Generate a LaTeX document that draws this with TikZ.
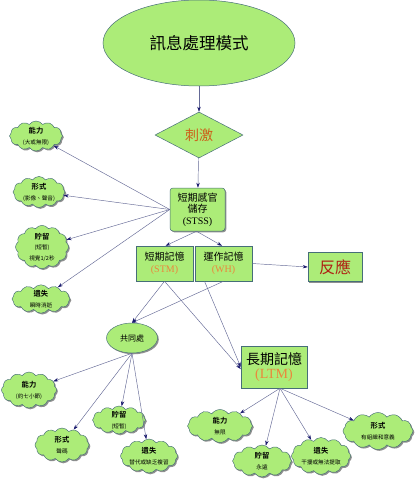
\documentclass[tikz,border=0pt]{standalone}
\usepackage{fontspec}
\setmainfont{Noto Sans CJK TC}[BoldFont={Noto Sans CJK TC Bold}]
\newfontfamily\lat{Liberation Serif}
\usetikzlibrary{shapes.geometric,shapes.symbols,arrows.meta,shadows}
\definecolor{gfill}{RGB}{172,236,120}
\definecolor{boxb}{RGB}{70,110,120}
\definecolor{linec}{RGB}{100,105,150}
\definecolor{tipc}{RGB}{25,25,110}
\definecolor{orangec}{RGB}{235,135,60}
\definecolor{stimc}{RGB}{205,95,25}
\definecolor{respc}{RGB}{175,35,20}
\tikzset{
  conn/.style={draw=linec, line width=0.45pt, -{Stealth[length=5pt,width=3.4pt,color=tipc]}},
  shad/.style={drop shadow={shadow xshift=1.3pt, shadow yshift=-1.3pt, fill=black!55, opacity=0.8}},
  box/.style={draw=boxb, fill=gfill, line width=0.5pt, inner sep=0pt, align=center, shad},
  cl/.style={cloud, cloud puffs=12, cloud puff arc=110, cloud ignores aspect, draw=boxb, fill=gfill, line width=0.45pt, inner sep=0pt, align=center, shad},
}
\newcommand{\cltitle}[1]{\fontsize{7.3}{8.5}\selectfont\bfseries #1}
\newcommand{\clsub}[1]{\fontsize{5.6}{6.5}\selectfont #1}
\begin{document}
\begin{tikzpicture}[x=1pt,y=-1pt]
\useasboundingbox (0,0) rectangle (416,479);
\fill[white] (0,0) rectangle (416,479);
% main nodes
\node[ellipse, draw=boxb, fill=gfill, line width=0.5pt, minimum width=192, minimum height=86, inner sep=0pt, font=\fontsize{16.5}{18}\selectfont] (title) at (199,43) {訊息處理模式};
\node[diamond, draw=boxb, fill=gfill, line width=0.5pt, aspect=1.9, minimum width=88, minimum height=46, inner sep=0pt, text=stimc, font=\fontsize{14}{16}\selectfont] (stim) at (199,135) {刺激};
\node[box, rounded corners=3pt, minimum width=55, minimum height=43, font=\fontsize{10}{11.5}\selectfont] (stss) at (197.5,209.5) {短期感官\\儲存\\\lat(STSS)};
\node[box, minimum width=57, minimum height=35, font=\fontsize{10}{12}\selectfont] (stm) at (164.5,263.5) {短期記憶\\\lat\color{orangec}(STM)};
\node[box, minimum width=57, minimum height=35, font=\fontsize{10}{12}\selectfont] (wh) at (223.5,263.5) {運作記憶\\\lat\color{orangec}(WH)};
\node[box, minimum width=54, minimum height=29, text=respc, font=\fontsize{16}{18}\selectfont] (resp) at (335,267) {反應};
\node[box, minimum width=66, minimum height=42, font=\fontsize{14}{16}\selectfont] (ltm) at (274,367) {長期記憶\\[-2pt]\lat\color{orangec}(LTM)};
\node[ellipse, draw=boxb, fill=gfill, line width=0.45pt, minimum width=51, minimum height=30, inner sep=0pt, font=\fontsize{8}{9}\selectfont, shad] (share) at (132,338) {共同處};
% sensory clouds
\node[cl, minimum width=53, minimum height=28] (s1) at (36,136) {\cltitle{能力}\\[-1pt]\clsub{(大或無限)}};
\node[cl, minimum width=52, minimum height=27] (s2) at (39,192) {\cltitle{形式}\\[-1pt]\clsub{(影像、聲音)}};
\node[cl, minimum width=53, minimum height=32] (s3) at (42,247) {\cltitle{貯留}\\[-1.5pt]\clsub{(短暫)}\\[-1.5pt]\clsub{視覺1/2秒}};
\node[cl, minimum width=58, minimum height=28] (s4) at (41,299) {\cltitle{遺失}\\[-1pt]\clsub{瞬時消逝}};
% STM clouds
\node[cl, minimum width=55, minimum height=36] (m1) at (29,390) {\cltitle{能力}\\[-1pt]\clsub{(約七小節)}};
\node[cl, minimum width=54, minimum height=34] (m2) at (62,445) {\cltitle{形式}\\[-1pt]\clsub{聲碼}};
\node[cl, minimum width=53, minimum height=28] (m3) at (119,420) {\cltitle{貯留}\\[-1pt]\clsub{(短暫)}};
\node[cl, minimum width=55, minimum height=34] (m4) at (149,456) {\cltitle{遺失}\\[-1pt]\clsub{替代或缺乏複習}};
% LTM clouds
\node[cl, minimum width=65, minimum height=33] (l1) at (220,426) {\cltitle{能力}\\[-1pt]\clsub{無限}};
\node[cl, minimum width=59, minimum height=32] (l2) at (262,461) {\cltitle{貯留}\\[-1pt]\clsub{永遠}};
\node[cl, minimum width=59, minimum height=37] (l3) at (321,456) {\cltitle{遺失}\\[-1pt]\clsub{干擾或無法提取}};
\node[cl, minimum width=70, minimum height=37] (l4) at (378,431) {\cltitle{形式}\\[-1pt]\clsub{有組織和意義}};
% connectors
\draw[conn] (title) -- (stim);
\draw[conn] (stim) -- (stss);
\draw[conn] (stss.west) -- (s1);
\draw[conn] (stss.west) -- (s2);
\draw[conn] (stss.west) -- (s3);
\draw[conn] (stss.west) -- (s4);
\draw[conn] ([xshift=-1pt]stss.south) -- ([xshift=1pt]stm.north);
\draw[conn] ([xshift=-1pt]stss.south) -- ([xshift=-1.5pt]wh.north);
\draw[conn] (wh.east) -- (resp.west);
\draw[conn] (stm.south) -- (share.north);
\draw[conn] (wh.south) -- (share.north);
\draw[conn] (stm.south) -- ([yshift=-2pt]ltm.west);
\draw[conn] ([xshift=-19pt]wh.south) -- (ltm.west);
\draw[conn] (share.south) -- (m1);
\draw[conn] (share.south) -- (m2);
\draw[conn] (share.south) -- (m3);
\draw[conn] (share.south) -- (m4);
\draw[conn] ([xshift=6pt]ltm.south) -- (l1);
\draw[conn] ([xshift=6pt]ltm.south) -- (l2);
\draw[conn] ([xshift=6pt]ltm.south) -- (l3);
\draw[conn] ([xshift=6pt]ltm.south) -- (l4);
\end{tikzpicture}
\end{document}
